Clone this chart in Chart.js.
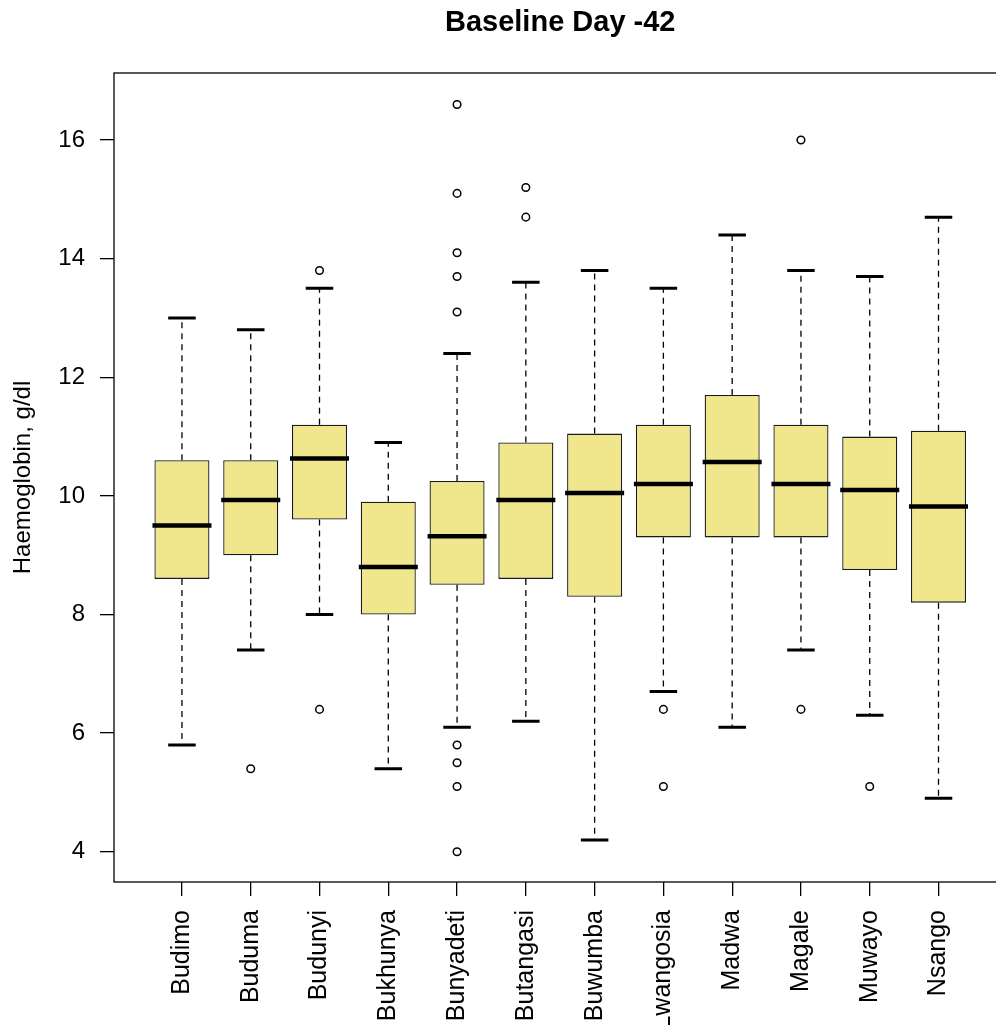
<!DOCTYPE html>
<html>
<head>
<meta charset="utf-8">
<script src="https://cdn.jsdelivr.net/npm/chart.js@4.4.1/dist/chart.umd.min.js"></script>
<style>
  html, body { margin: 0; padding: 0; background: #fff; }
  #wrap { width: 996px; height: 1025px; }
</style>
</head>
<body>
<div id="wrap"><canvas id="chart" width="996" height="1025"></canvas></div>
<script>
// villages (one box each)
const categories = ['Budimo', 'Buduma', 'Budunyi', 'Bukhunya', 'Bunyadeti', 'Butangasi',
                    'Buwumba', 'Lwangosia', 'Madwa', 'Magale', 'Muwayo', 'Nsango'];

// box statistics, g/dl
const whiskerLow  = [5.8, 7.4, 8.0, 5.4, 6.1, 6.2, 4.2, 6.7, 6.1, 7.4, 6.3, 4.9];
const q1          = [8.6, 9.0, 9.6, 8.0, 8.5, 8.6, 8.3, 9.3, 9.3, 9.3, 8.75, 8.2];
const medians     = [9.5, 9.93, 10.63, 8.8, 9.32, 9.93, 10.05, 10.2, 10.57, 10.2, 10.1, 9.82];
const q3          = [10.6, 10.6, 11.2, 9.9, 10.25, 10.9, 11.05, 11.2, 11.7, 11.2, 11.0, 11.1];
const whiskerHigh = [13.0, 12.8, 13.5, 10.9, 12.4, 13.6, 13.8, 13.5, 14.4, 13.8, 13.7, 14.7];

// outliers: village number (1-based) and value
const outlierCat = [2, 3, 3, 5, 5, 5, 5, 5, 5, 5, 5, 5, 6, 6, 8, 8, 10, 10, 11];
const outlierVal = [5.4, 13.8, 6.4, 16.6, 15.1, 14.1, 13.7, 13.1, 5.8, 5.5, 5.1, 4.0,
                    15.2, 14.7, 6.4, 5.1, 16.0, 6.4, 5.1];

const yTicks = [4, 6, 8, 10, 12, 14, 16];
const titleText = 'Baseline Day -42';

Chart.defaults.color = '#000';
Chart.defaults.font.family = '"Liberation Sans", Arial, Helvetica, sans-serif';

const boxData = categories.map((c, i) => ({ x: i + 1, y: [q1[i], q3[i]] }));
const outlierData = outlierCat.map((c, i) => ({ x: c, y: outlierVal[i] }));

// whiskers, staples, medians, the frame and the title (centred on the plot region like R)
const boxplotExtras = {
    id: 'boxplotExtras',
    afterDatasetsDraw(chart) {
        const ctx = chart.ctx;
        const xs = chart.scales.x;
        const ys = chart.scales.y;
        const halfBox = xs.getPixelForValue(1.4) - xs.getPixelForValue(1);
        const halfCap = halfBox / 2;
        ctx.save();
        ctx.strokeStyle = '#000';
        categories.forEach((c, i) => {
            const x = xs.getPixelForValue(i + 1);
            const yLo = ys.getPixelForValue(whiskerLow[i]);
            const yQ1 = ys.getPixelForValue(q1[i]);
            const yQ3 = ys.getPixelForValue(q3[i]);
            const yHi = ys.getPixelForValue(whiskerHigh[i]);
            const yMed = ys.getPixelForValue(medians[i]);

            // dashed whiskers
            ctx.setLineDash([6, 5]);
            ctx.lineWidth = 1.3;
            ctx.beginPath();
            ctx.moveTo(x, yQ3);
            ctx.lineTo(x, yHi);
            ctx.moveTo(x, yQ1);
            ctx.lineTo(x, yLo);
            ctx.stroke();

            // staples
            ctx.setLineDash([]);
            ctx.lineWidth = 3;
            ctx.beginPath();
            ctx.moveTo(x - halfCap, yHi);
            ctx.lineTo(x + halfCap, yHi);
            ctx.moveTo(x - halfCap, yLo);
            ctx.lineTo(x + halfCap, yLo);
            ctx.stroke();

            // median
            ctx.lineWidth = 4.5;
            ctx.beginPath();
            ctx.moveTo(x - halfBox - 2, yMed);
            ctx.lineTo(x + halfBox + 2, yMed);
            ctx.stroke();
        });

        // frame (right side falls outside the picture, as in the original)
        const a = chart.chartArea;
        ctx.lineWidth = 1.3;
        ctx.strokeRect(a.left, a.top, a.right - a.left + 30, a.bottom - a.top);

        // title over the full plot region (x from 0.02 to 12.98)
        const cx = (xs.getPixelForValue(0.02) + xs.getPixelForValue(12.98)) / 2;
        ctx.fillStyle = '#000';
        ctx.font = 'bold 29px "Liberation Sans", Arial, Helvetica, sans-serif';
        ctx.textAlign = 'center';
        ctx.textBaseline = 'middle';
        ctx.fillText(titleText, cx, 23);
        ctx.restore();
    }
};

new Chart(document.getElementById('chart'), {
    type: 'bar',
    data: {
        datasets: [{
            type: 'bar',
            label: 'Haemoglobin',
            data: boxData,
            backgroundColor: '#F0E68C',
            borderColor: '#1a1a1a',
            borderWidth: 1.3,
            borderSkipped: false,
            categoryPercentage: 1,
            barPercentage: 0.8,
            order: 2
        }, {
            type: 'scatter',
            label: 'Outliers',
            data: outlierData,
            pointStyle: 'circle',
            pointRadius: 3.8,
            pointBorderWidth: 1.5,
            pointBorderColor: '#000',
            pointBackgroundColor: 'rgba(0,0,0,0)',
            order: 1
        }]
    },
    options: {
        responsive: false,
        animation: false,
        layout: { padding: { left: 0, right: 0, top: 73, bottom: 0 } },
        plugins: {
            legend: { display: false },
            tooltip: { enabled: false },
            title: { display: false }
        },
        scales: {
            x: {
                type: 'linear',
                // chart area ends at 991 px; this range puts village 1 at 182 px and 12 at 939 px
                min: 0.012,
                max: 12.756,
                offset: false,
                border: { display: false },
                grid: { offset: false, drawOnChartArea: false, drawTicks: true, tickLength: 14, tickColor: '#000', lineWidth: 1.3 },
                afterBuildTicks: (axis) => { axis.ticks = categories.map((c, i) => ({ value: i + 1 })); },
                afterFit: (axis) => { axis.height = 143; axis.paddingLeft = 0; axis.paddingRight = 0; },
                ticks: {
                    autoSkip: false,
                    maxRotation: 90,
                    minRotation: 90,
                    padding: 14,
                    font: { size: 25 },
                    callback: (v) => categories[v - 1]
                }
            },
            y: {
                min: 3.49,
                max: 17.13,
                border: { display: false },
                grid: { drawOnChartArea: false, drawTicks: true, tickLength: 14, tickColor: '#000', lineWidth: 1.3 },
                afterBuildTicks: (axis) => { axis.ticks = yTicks.map(v => ({ value: v })); },
                afterFit: (axis) => { axis.width = 114; },
                ticks: {
                    padding: 15,
                    font: { size: 24 },
                    callback: (v) => String(v)
                },
                title: {
                    display: true,
                    text: 'Haemoglobin, g/dl',
                    font: { size: 24 },
                    padding: { top: 9, bottom: 0 }
                }
            }
        }
    },
    plugins: [boxplotExtras]
});
</script>
</body>
</html>
